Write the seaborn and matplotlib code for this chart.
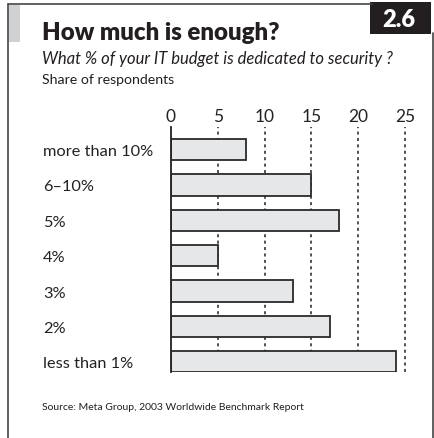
import matplotlib
matplotlib.use("Agg")
import matplotlib.pyplot as plt
from matplotlib.lines import Line2D
from matplotlib.patches import Rectangle
import seaborn as sns
import pandas as pd

categories = ["more than 10%", "6\u201310%", "5%", "4%", "3%", "2%", "less than 1%"]
shares = [8, 15, 18, 5, 13, 17, 24]
ticks = [0, 5, 10, 15, 20, 25]

title = "How much is enough?"
question = "What % of your IT budget is dedicated to security ?"
unit_note = "Share of respondents"
source = "Source: Meta Group, 2003 Worldwide Benchmark Report"
chart_no = "2.6"

sns.set_theme(style="white")
plt.rcParams["font.family"] = ["Lato", "DejaVu Sans"]

W, H = 434, 439
fig = plt.figure(figsize=(W / 100, H / 100), dpi=100)


def fx(px):
    return px / W


def fy(py):
    return 1 - py / H


# plot area: x=0 at 171 px, 9.36 px per unit
x0, ppu = 171, 9.36
xmax = 26
y_top, y_bot = 128, 373.3
ax = fig.add_axes([fx(x0), fy(y_bot), xmax * ppu / W, (y_bot - y_top) / H])

df = pd.DataFrame({"category": categories, "share": shares})

for t in ticks[1:]:
    ax.axvline(t, color="#222222", lw=1.1, ls=(0, (2, 2.2)), zorder=0)

sns.barplot(data=df, x="share", y="category", orient="h", ax=ax,
            color="#e6e7e8", edgecolor="#2a2a2a", linewidth=1.3,
            width=0.6, saturation=1, zorder=2)

ax.set_xlim(0, xmax)
ax.set_ylim(6.3, -0.64)
ax.set_xlabel("")
ax.set_ylabel("")
ax.xaxis.tick_top()
ax.set_xticks(ticks)
ax.set_xticklabels([str(t) for t in ticks])
ax.tick_params(axis="x", length=0, pad=2, labelsize=12.5, colors="#222222")
ax.tick_params(axis="y", length=0, pad=0, labelsize=11.8, colors="#222222")
for lbl in ax.get_yticklabels():
    lbl.set_horizontalalignment("left")
    lbl.set_x(-(x0 - 43) / (xmax * ppu))
for s in ["top", "right", "bottom"]:
    ax.spines[s].set_visible(False)
ax.spines["left"].set_color("#222222")
ax.spines["left"].set_linewidth(1.3)
ax.patch.set_alpha(0)

# panel frame
fig.add_artist(Line2D([fx(8), fx(372)], [fy(5), fy(5)], color="#444444", lw=1.2))
fig.add_artist(Line2D([fx(8), fx(8)], [fy(5), 0], color="#444444", lw=1.2))
fig.add_artist(Line2D([fx(433), fx(433)], [fy(34), 0], color="#444444", lw=1.2))
fig.add_artist(Rectangle((fx(8.6), fy(43)), fx(11.5), (43 - 5.6) / H,
                         facecolor="#d0d1d3", edgecolor="none"))
fig.add_artist(Rectangle((fx(370), fy(35)), fx(61), 32 / H,
                         facecolor="#231f20", edgecolor="none"))
fig.text(fx(399), fy(20), chart_no, color="white", fontsize=17,
         fontweight="heavy", ha="center", va="center")

fig.text(fx(42), fy(39.5), title, fontsize=17.3, fontweight="heavy",
         color="#231f20", ha="left", va="baseline")
fig.text(fx(42), fy(64), question, fontsize=12, style="italic",
         color="#231f20", ha="left", va="baseline")
fig.text(fx(42), fy(84), unit_note, fontsize=10.2, color="#231f20",
         ha="left", va="baseline")
fig.text(fx(42), fy(410), source, fontsize=7.5, color="#231f20",
         ha="left", va="baseline")

fig.savefig("out.png", dpi=100)
